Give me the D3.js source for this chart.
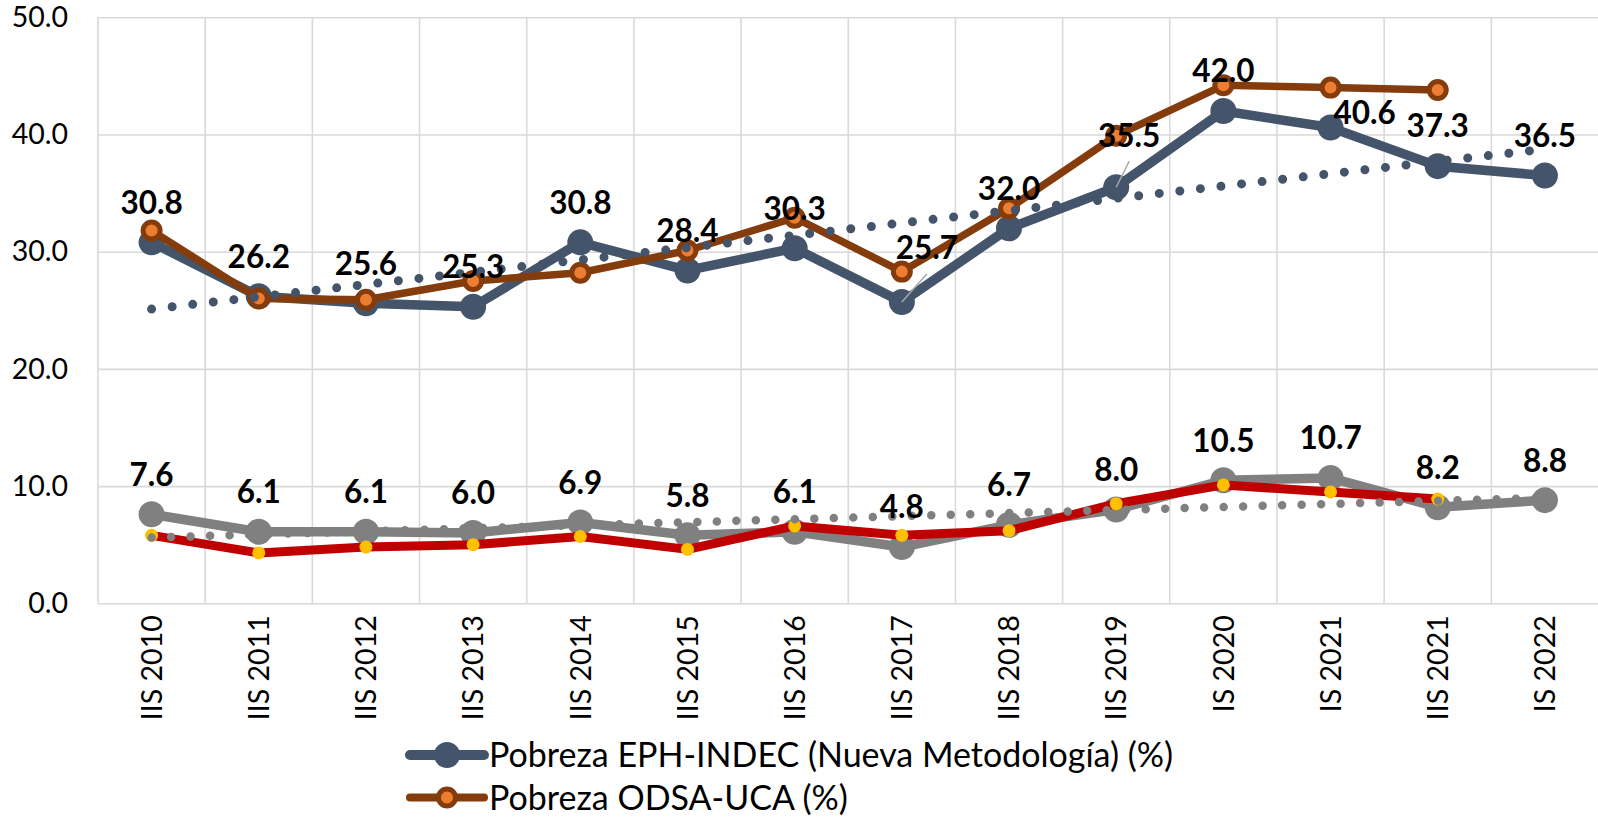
<!DOCTYPE html>
<html>
<head>
<meta charset="utf-8">
<script src="https://cdn.jsdelivr.net/npm/d3@7"></script>
<style>
  html, body { margin: 0; padding: 0; background: #fff; }
  svg text { font-family: Lato, "Noto Sans", sans-serif; fill: #000; }
</style>
</head>
<body>
<svg id="chart" width="1598" height="818"></svg>
<script>
// categories (semesters)
const categories = ["IIS 2010", "IIS 2011", "IIS 2012", "IIS 2013", "IIS 2014", "IIS 2015", "IIS 2016",
                    "IIS 2017", "IIS 2018", "IIS 2019", "IS 2020", "IS 2021", "IIS 2021", "IS 2022"];

// Pobreza EPH-INDEC (Nueva Metodología) (%)
const pobrezaIndec = [30.8, 26.2, 25.6, 25.3, 30.8, 28.4, 30.3, 25.7, 32.0, 35.5, 42.0, 40.6, 37.3, 36.5];
// Pobreza ODSA-UCA (%)
const pobrezaOdsa  = [31.8, 26.0, 25.9, 27.5, 28.2, 30.1, 32.9, 28.3, 33.7, 39.9, 44.2, 44.0, 43.8, null];
// Indigencia EPH-INDEC (%)
const indigIndec   = [7.6, 6.1, 6.1, 6.0, 6.9, 5.8, 6.1, 4.8, 6.7, 8.0, 10.5, 10.7, 8.2, 8.8];
// Indigencia ODSA-UCA (%)
const indigOdsa    = [5.8, 4.3, 4.8, 5.0, 5.7, 4.6, 6.6, 5.8, 6.2, 8.5, 10.1, 9.5, 8.9, null];

const yTicks = [0, 10, 20, 30, 40, 50];
const legendLabels = ["Pobreza EPH-INDEC (Nueva Metodología) (%)", "Pobreza ODSA-UCA (%)"];

// a few labels of the INDEC series were moved by hand in the original (dx, dy in px)
const indecLabelNudge = { 7: [25, -14], 9: [13, -12], 11: [34, 25] };

const svg = d3.select("#chart");
const plot = { left: 98, right: 1598.5, top: 17.3, bottom: 603.3 };

const x = d3.scaleBand().domain(categories).range([plot.left, plot.right]).paddingInner(0).paddingOuter(0);
const y = d3.scaleLinear().domain([0, 50]).range([plot.bottom, plot.top]);
const cx = c => x(c) + x.bandwidth() / 2;

const GRID = "#d9d9d9";

// horizontal grid + y labels
const yAxis = svg.append("g")
  .attr("transform", `translate(${plot.left},0)`)
  .call(d3.axisLeft(y).tickValues(yTicks).tickFormat(d3.format(".1f"))
        .tickSizeInner(-(plot.right - plot.left)).tickSizeOuter(0).tickPadding(30));
yAxis.select(".domain").remove();
yAxis.selectAll(".tick line").attr("stroke", GRID).attr("stroke-width", 1.6);
yAxis.selectAll(".tick text").style("font-size", "28.5px").attr("fill", "#000");

// vertical grid at category boundaries
svg.append("g").selectAll("line")
  .data(categories)
  .join("line")
  .attr("x1", d => x(d)).attr("x2", d => x(d))
  .attr("y1", plot.top).attr("y2", plot.bottom)
  .attr("stroke", GRID).attr("stroke-width", 1.6);

// x labels, rotated
const xAxis = svg.append("g")
  .attr("transform", `translate(0,${plot.bottom})`)
  .call(d3.axisBottom(x).tickSize(0).tickPadding(0));
xAxis.select(".domain").remove();
xAxis.selectAll(".tick text")
  .style("font-size", "28.5px")
  .attr("text-anchor", "end")
  .attr("transform", "rotate(-90)")
  .attr("x", -12).attr("y", 0).attr("dy", "0.36em");

const line = d3.line()
  .defined(d => d.v != null)
  .x(d => cx(d.c))
  .y(d => y(d.v));

const pts = arr => categories.map((c, i) => ({ c, v: arr[i], i }));

function drawSeries(arr, color, width) {
  svg.append("path")
    .datum(pts(arr))
    .attr("d", line)
    .attr("fill", "none")
    .attr("stroke", color)
    .attr("stroke-width", width)
    .attr("stroke-linejoin", "round");
}

function drawMarkers(arr, r, fill, stroke, sw) {
  svg.append("g").selectAll("circle")
    .data(pts(arr).filter(d => d.v != null))
    .join("circle")
    .attr("cx", d => cx(d.c)).attr("cy", d => y(d.v))
    .attr("r", r)
    .attr("fill", fill)
    .attr("stroke", stroke || "none")
    .attr("stroke-width", sw || 0);
}

// linear trendline (least squares on category index)
function trend(arr) {
  const p = arr.map((v, i) => [i, v]).filter(d => d[1] != null);
  const mx = d3.mean(p, d => d[0]), my = d3.mean(p, d => d[1]);
  const slope = d3.sum(p, d => (d[0] - mx) * (d[1] - my)) / d3.sum(p, d => (d[0] - mx) ** 2);
  const b = my - slope * mx;
  return categories.map((c, i) => ({ c, v: b + slope * i }));
}

function drawTrend(arr, color, width, gap) {
  svg.append("path")
    .datum(trend(arr))
    .attr("d", line)
    .attr("fill", "none")
    .attr("stroke", color)
    .attr("stroke-width", width)
    .attr("stroke-linecap", "round")
    .attr("stroke-dasharray", `0 ${gap}`);
}

// upper pair
drawSeries(pobrezaIndec, "#44546a", 9.5);
drawMarkers(pobrezaIndec, 13, "#44546a");
drawSeries(pobrezaOdsa, "#843c0c", 7.5);
drawMarkers(pobrezaOdsa, 8.5, "#ed7d31", "#843c0c", 5);

// lower pair
drawSeries(indigIndec, "#808080", 9.5);
drawMarkers(indigIndec, 13, "#808080");
drawSeries(indigOdsa, "#c00000", 9);
drawMarkers(indigOdsa, 6.5, "#ffc000");

// trendlines
drawTrend(pobrezaIndec, "#44546a", 9, 20.7);
drawTrend(indigIndec, "#808080", 8.5, 19.5);

// data labels
function drawLabels(arr, nudge) {
  const g = svg.append("g");
  pts(arr).forEach(d => {
    const n = (nudge && nudge[d.i]) || [0, 0];
    const px = cx(d.c), py = y(d.v);
    const lx = px + n[0], ly = py - 40 + n[1];
    if (n[0] !== 0 && n[1] < 0) {
      g.append("line")
        .attr("x1", px).attr("y1", py)
        .attr("x2", lx).attr("y2", ly + 26)
        .attr("stroke", "#a6a6a6").attr("stroke-width", 1.5);
    }
    g.append("text")
      .attr("x", lx).attr("y", ly).attr("dy", "0.36em")
      .attr("text-anchor", "middle")
      .style("font-size", "31.5px").style("font-weight", "bold")
      .text(d3.format(".1f")(d.v));
  });
}
drawLabels(pobrezaIndec, indecLabelNudge);
drawLabels(indigIndec, null);

// legend
const legend = svg.append("g");
const legendRows = [
  { label: legendLabels[0], color: "#44546a", lw: 10, r: 13, fill: "#44546a", stroke: null, sw: 0 },
  { label: legendLabels[1], color: "#843c0c", lw: 8, r: 8.5, fill: "#ed7d31", stroke: "#843c0c", sw: 5 }
];
legendRows.forEach((row, i) => {
  const ly = 755 + i * 42.5;
  legend.append("line")
    .attr("x1", 410).attr("x2", 484).attr("y1", ly).attr("y2", ly)
    .attr("stroke", row.color).attr("stroke-width", row.lw).attr("stroke-linecap", "round");
  legend.append("circle")
    .attr("cx", 447).attr("cy", ly).attr("r", row.r)
    .attr("fill", row.fill).attr("stroke", row.stroke || "none").attr("stroke-width", row.sw);
  legend.append("text")
    .attr("x", 489).attr("y", ly).attr("dy", "0.36em")
    .style("font-size", "34px")
    .text(row.label);
});
</script>
</body>
</html>
